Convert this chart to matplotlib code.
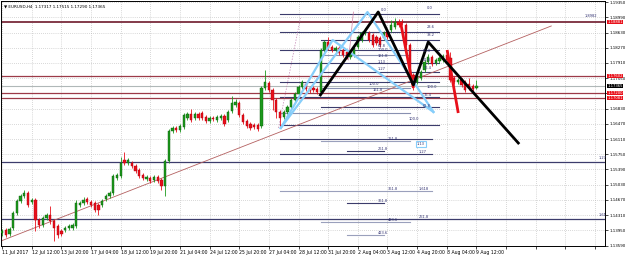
import numpy as np
import matplotlib.pyplot as plt

# EURUSD H4 candles, 11 Jul 2017 00:00 .. 9 Aug 2017 12:00
opens = [1.13886, 1.13957, 1.13862, 1.14004, 1.14359, 1.14643, 1.14762, 1.14833, 1.14620, 1.14667,
         1.14194, 1.14075, 1.14241, 1.14312, 1.14170, 1.14052, 1.13933, 1.13957, 1.14004, 1.14004,
         1.14052, 1.14549, 1.14596, 1.14691, 1.14620, 1.14596, 1.14549, 1.14549, 1.14691, 1.14762,
         1.14833, 1.15188, 1.15235, 1.15614, 1.15543, 1.15543, 1.15472, 1.15377, 1.15259, 1.15164,
         1.15188, 1.15140, 1.15212, 1.15140, 1.14998, 1.15590, 1.16300, 1.16371, 1.16324, 1.16395,
         1.16608, 1.16702, 1.16608, 1.16702, 1.16726, 1.16631, 1.16537, 1.16608, 1.16561, 1.16608,
         1.16655, 1.16561, 1.16773, 1.16916, 1.16963, 1.16679, 1.16537, 1.16466, 1.16442, 1.16442,
         1.16419, 1.17318, 1.17436, 1.17271, 1.17034, 1.16750, 1.16631, 1.16750, 1.16868, 1.17034,
         1.17176, 1.17341, 1.17412, 1.17318, 1.17318, 1.17294, 1.17223, 1.18218, 1.18407, 1.18288,
         1.18218, 1.18265, 1.18218, 1.18171, 1.18052, 1.18100, 1.18288, 1.18454, 1.18620, 1.18620,
         1.18573, 1.18525, 1.18502, 1.18502, 1.18644, 1.18691, 1.18762, 1.18881, 1.18881, 1.18810,
         1.18336, 1.17626, 1.17460, 1.17555, 1.17744, 1.17934, 1.18052, 1.17910, 1.17957, 1.17981,
         1.18100, 1.18029, 1.17555, 1.17460, 1.17507, 1.17460, 1.17412, 1.17365, 1.17317]
closes = [1.13933, 1.13839, 1.13981, 1.14359, 1.14643, 1.14762, 1.14833, 1.14549, 1.14667, 1.14194,
          1.14075, 1.14241, 1.14312, 1.14170, 1.14004, 1.13839, 1.13862, 1.14004, 1.14052, 1.14075,
          1.14596, 1.14596, 1.14667, 1.14620, 1.14549, 1.14430, 1.14430, 1.14643, 1.14762, 1.14833,
          1.15235, 1.15259, 1.15543, 1.15543, 1.15614, 1.15472, 1.15354, 1.15235, 1.15188, 1.15212,
          1.15117, 1.15212, 1.15117, 1.14998, 1.15590, 1.16300, 1.16371, 1.16324, 1.16419, 1.16679,
          1.16702, 1.16561, 1.16702, 1.16608, 1.16608, 1.16537, 1.16608, 1.16584, 1.16631, 1.16655,
          1.16466, 1.16750, 1.16963, 1.16987, 1.16679, 1.16513, 1.16419, 1.16371, 1.16395, 1.16348,
          1.17318, 1.17460, 1.17271, 1.17034, 1.16750, 1.16608, 1.16750, 1.16868, 1.17034, 1.17176,
          1.17341, 1.17460, 1.17294, 1.17247, 1.17271, 1.17223, 1.18218, 1.18407, 1.18265, 1.18218,
          1.18265, 1.18147, 1.18100, 1.18052, 1.18147, 1.18265, 1.18525, 1.18620, 1.18667, 1.18454,
          1.18336, 1.18383, 1.18336, 1.18620, 1.18525, 1.18810, 1.18881, 1.18810, 1.18857, 1.18336,
          1.17626, 1.17389, 1.17602, 1.17697, 1.17934, 1.18052, 1.17886, 1.17981, 1.18029, 1.18076,
          1.17981, 1.17507, 1.17460, 1.17507, 1.17389, 1.17271, 1.17318, 1.17294, 1.17365]
highs = [1.13981, 1.14004, 1.14028, 1.14407, 1.14691, 1.14809, 1.14904, 1.14880, 1.14714, 1.14714,
         1.14241, 1.14288, 1.14359, 1.14525, 1.14217, 1.14099, 1.13981, 1.14052, 1.14099, 1.14123,
         1.14667, 1.14643, 1.14738, 1.14738, 1.14667, 1.14643, 1.14596, 1.14691, 1.14809, 1.14880,
         1.15283, 1.15306, 1.15685, 1.15803, 1.15661, 1.15590, 1.15519, 1.15425, 1.15306, 1.15259,
         1.15235, 1.15259, 1.15259, 1.15188, 1.15638, 1.16348, 1.16419, 1.16419, 1.16466, 1.16726,
         1.16750, 1.16821, 1.16750, 1.16750, 1.16773, 1.16679, 1.16655, 1.16655, 1.16679, 1.16702,
         1.16702, 1.16797, 1.17129, 1.17058, 1.17010, 1.16726, 1.16584, 1.16513, 1.16490, 1.16490,
         1.17365, 1.17744, 1.17483, 1.17318, 1.17081, 1.16797, 1.16797, 1.16916, 1.17081, 1.17223,
         1.17389, 1.17507, 1.17460, 1.17365, 1.17365, 1.17341, 1.18265, 1.18454, 1.18525, 1.18336,
         1.18312, 1.18312, 1.18265, 1.18218, 1.18194, 1.18312, 1.18573, 1.18667, 1.18739, 1.18667,
         1.18620, 1.18573, 1.18549, 1.18667, 1.18691, 1.18928, 1.18975, 1.18951, 1.18951, 1.18857,
         1.18383, 1.17673, 1.17649, 1.17744, 1.17981, 1.18123, 1.18100, 1.18029, 1.18076, 1.18123,
         1.18218, 1.18171, 1.17602, 1.17555, 1.17555, 1.17507, 1.17555, 1.17412, 1.17515]
lows = [1.13815, 1.13791, 1.13815, 1.13957, 1.14312, 1.14596, 1.14714, 1.14501, 1.14572, 1.13933,
        1.14004, 1.14028, 1.14194, 1.14099, 1.13697, 1.13768, 1.13815, 1.13910, 1.13957, 1.13957,
        1.14004, 1.14501, 1.14549, 1.14572, 1.14501, 1.14383, 1.14312, 1.14501, 1.14643, 1.14714,
        1.14785, 1.15140, 1.15188, 1.15496, 1.15496, 1.15425, 1.15306, 1.15188, 1.15140, 1.15117,
        1.15069, 1.15093, 1.15069, 1.14904, 1.14762, 1.15543, 1.16253, 1.16277, 1.16277, 1.16348,
        1.16561, 1.16513, 1.16561, 1.16561, 1.16561, 1.16490, 1.16490, 1.16537, 1.16513, 1.16561,
        1.16419, 1.16513, 1.16726, 1.16868, 1.16631, 1.16466, 1.16371, 1.16324, 1.16348, 1.16300,
        1.16371, 1.17271, 1.17223, 1.16797, 1.16608, 1.16395, 1.16584, 1.16702, 1.16821, 1.16987,
        1.17129, 1.17294, 1.17247, 1.17200, 1.17223, 1.17176, 1.17176, 1.18171, 1.18218, 1.18171,
        1.18171, 1.18100, 1.18052, 1.18005, 1.18005, 1.18052, 1.18241, 1.18407, 1.18573, 1.18407,
        1.18288, 1.18336, 1.18288, 1.18454, 1.18478, 1.18644, 1.18715, 1.18762, 1.18810, 1.18288,
        1.17578, 1.17271, 1.17412, 1.17507, 1.17697, 1.17886, 1.17839, 1.17863, 1.17910, 1.17934,
        1.17934, 1.17460, 1.17412, 1.17412, 1.17341, 1.17223, 1.17271, 1.17247, 1.17290]

date_labels = ["11 Jul 2017", "12 Jul 12:00", "13 Jul 20:00", "17 Jul 04:00", "18 Jul 12:00",
               "19 Jul 20:00", "21 Jul 04:00", "24 Jul 12:00", "25 Jul 20:00", "27 Jul 04:00",
               "28 Jul 12:00", "31 Jul 20:00", "2 Aug 04:00", "3 Aug 12:00", "4 Aug 20:00",
               "8 Aug 04:00", "9 Aug 12:00"]
price_ticks = [1.13590, 1.13950, 1.14310, 1.14670, 1.15030, 1.15390, 1.15750, 1.16110, 1.16470,
               1.16830, 1.17190, 1.17550, 1.17910, 1.18270, 1.18630, 1.18990, 1.19350]
# tick labels that sit under the price boxes on the right
hidden_ticks = [1.17190]

# full width horizontal lines: price, colour, width
hlines = [(1.18881, '#7a2b3c', 1.3), (1.17602, '#9c3a48', 0.9), (1.17365, '#b0b8b8', 0.8),
          (1.17200, '#9c3a48', 0.9), (1.17081, '#9c3a48', 0.9),
          (1.15567, '#3c3c6c', 0.9), (1.14217, '#3c3c6c', 0.9)]
# right axis price boxes
price_boxes = [(1.18881, '#e8101a'), (1.17602, '#e8101a'), (1.17365, '#000000'),
               (1.17200, '#e8101a'), (1.17081, '#e8101a')]

# fibonacci level segments: start bar, end bar, price, colour
fib_lines = [(75, 118, 1.19069, '#3c3c6c'), (75, 118, 1.18644, '#3c3c6c'), (86, 118, 1.18454, '#3c3c6c'),
             (75, 118, 1.18218, '#3c3c6c'), (86, 110, 1.18100, '#8890b0'), (75, 118, 1.17910, '#3c3c6c'),
             (86, 118, 1.17697, '#3c3c6c'), (75, 118, 1.17460, '#3c3c6c'), (86, 110, 1.17318, '#8890b0'),
             (75, 118, 1.17105, '#3c3c6c'), (86, 118, 1.16868, '#3c3c6c'), (75, 110, 1.16726, '#8890b0'),
             (75, 118, 1.16442, '#3c3c6c'),
             (75, 116, 1.16110, '#3c3c6c'), (86, 110, 1.16063, '#9aa0bc'), (93, 103, 1.15827, '#3c3c6c'),
             (75, 116, 1.15756, '#3c3c6c'), (75, 116, 1.14887, '#9aa0bc'), (93, 103, 1.14596, '#3c3c6c'),
             (86, 110, 1.14146, '#9aa0bc'), (93, 103, 1.13839, '#9aa0bc')]
# fibonacci labels: bar, price, text
fib_labels = [(102.1, 1.19117, "0.0"), (114.5, 1.19164, "0.0"), (114.7, 1.18715, "23.6"),
              (114.7, 1.18525, "38.2"), (113.4, 1.18147, "50.0"), (113.4, 1.17934, "61.8"),
              (113.7, 1.17744, "76.4"), (114.7, 1.17294, "100.0"), (113.7, 1.17105, "76.4"),
              (113.4, 1.16844, "61.8"), (109.6, 1.16537, "100.0"),
              (101.3, 1.18265, "61.8"), (101.3, 1.18171, "100.0"), (101.3, 1.18029, "161.8"),
              (101.3, 1.17886, "1.13"), (101.3, 1.17720, "1.27"), (98.9, 1.17365, "100.0"),
              (99.9, 1.17223, "161.8"),
              (104.2, 1.16063, "261.8"), (101.5, 1.15827, "261.8"), (112.5, 1.15756, "1.27"),
              (104.2, 1.14887, "361.8"), (112.5, 1.14887, "1.618"), (101.5, 1.14596, "361.8"),
              (104.2, 1.14146, "423.6"), (112.5, 1.14217, "261.8"), (101.5, 1.13839, "423.6"),
              (157.3, 1.18975, "1.8982"), (161.0, 1.15614, "1.27"), (161.0, 1.14264, "1.61")]

# drawn pattern lines (bar, price)
black_x = [85.9, 101.5, 111.0, 115.0, 139.3]
black_y = [1.17153, 1.19117, 1.17389, 1.18407, 1.16016]
cyan_a_x = [75.2, 89.2, 116.4]
cyan_a_y = [1.16371, 1.18454, 1.16750]
cyan_b_x = [75.2, 98.6, 116.4]
cyan_b_y = [1.16371, 1.19117, 1.16750]
red_segs = [((107.5, 111.0), (1.18881, 1.17318)), ((120.1, 123.1), (1.18218, 1.16726))]
trend_x = [-0.3, 148.2]
trend_y = [1.13697, 1.18786]

fig = plt.figure(figsize=(6.25, 2.58), dpi=100)
ax = fig.add_axes([1 / 625, 12.5 / 258, 604 / 625, 244.5 / 258])
ax.set_xlim(-0.3, 162.7)
ax.set_ylim(1.13590, 1.19377)

ax.set_xticks(range(0, 161, 8))
ax.set_xticklabels(date_labels + [''] * 4)
for lab in ax.get_xticklabels():
    lab.set_ha('left')
ax.yaxis.tick_right()
ax.set_yticks(price_ticks)
ax.set_yticklabels(['' if p in hidden_ticks else '%.5f' % p for p in price_ticks])
ax.tick_params(axis='x', labelsize=3.3, length=2, pad=1.5, width=0.5)
ax.tick_params(axis='y', labelsize=2.9, length=2, pad=1.2, width=0.5)
ax.grid(True, color='#b4b4b4', linestyle=(0, (1, 2)), lw=0.5)
ax.set_axisbelow(True)
for s in ax.spines.values():
    s.set_linewidth(0.7)

for price, col, w in hlines:
    ax.axhline(price, color=col, lw=w, zorder=2)

for x0, x1, price, col in fib_lines:
    ax.plot([x0, x1], [price, price], color=col, lw=0.8, zorder=2)
for x, price, txt in fib_labels:
    ax.text(x, price, txt, fontsize=2.6, color='#303070', va='bottom', ha='left', zorder=6)
ax.text(112.0, 1.15993, "1.13", fontsize=2.6, color='#303070', va='center', ha='left', zorder=6,
        bbox=dict(boxstyle='square,pad=0.3', fc='white', ec='#87cefa', lw=0.8))

ax.plot(trend_x, trend_y, color='#b46060', lw=0.6, zorder=2)
ax.plot([74.6, 80.5], [1.16371, 1.18975], color='#c080b0', lw=0.5, ls=(0, (2, 2)), zorder=2)
ax.plot([93.5, 94.8], [1.17981, 1.19117], color='#d080a0', lw=0.5, zorder=2)

# candles
o = np.array(opens)
c = np.array(closes)
idx = np.arange(len(o))
up = c >= o
col = np.where(up, '#1c9a1c', '#e8101a')
edge = np.where(up, '#0c5a0c', '#b00010')
ax.vlines(idx, lows, highs, colors=col, lw=0.6, zorder=3)
ax.bar(idx, np.where(np.abs(c - o) < 0.00003, 0.00004, c - o), bottom=o, width=0.62,
       color=col, edgecolor=edge, lw=0.3, zorder=4)

ax.plot(cyan_a_x, cyan_a_y, color='#87cefa', lw=1.6, zorder=5)
ax.plot(cyan_b_x, cyan_b_y, color='#87cefa', lw=1.6, zorder=5)
for xs, ys in red_segs:
    ax.plot(xs, ys, color='#e8101a', lw=2.0, zorder=5, solid_capstyle='butt')
ax.plot(black_x, black_y, color='black', lw=2.0, zorder=5)

for price, fc in price_boxes:
    ax.text(1.004, price, '%.5f' % price, transform=ax.get_yaxis_transform(), fontsize=2.7,
            color='white', va='center', ha='left', clip_on=False, zorder=7,
            bbox=dict(boxstyle='square,pad=0.08', fc=fc, ec='none'))

ax.text(0.005, 0.985, "\u25bc EURUSD,H4  1.17317 1.17515 1.17290 1.17365", transform=ax.transAxes,
        fontsize=3.0, color='black', va='top', ha='left')

fig.savefig('out.png', dpi=100)
